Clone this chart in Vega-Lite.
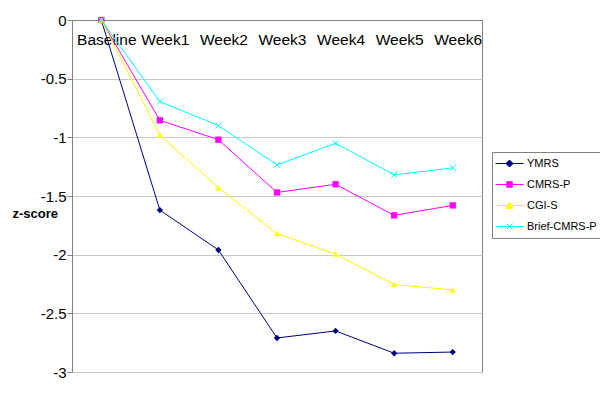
{
  "$schema": "https://vega.github.io/schema/vega-lite/v6.json",
  "width": 410,
  "height": 352,
  "autosize": "none",
  "padding": {"left": 72, "top": 20, "right": 118, "bottom": 28},
  "background": "white",
  "config": {
    "font": "Liberation Sans",
    "view": {"stroke": "#808080", "strokeWidth": 1}
  },
  "data": {
    "values": [
      {"week": "Baseline", "measure": "YMRS", "z": 0},
      {"week": "Week1", "measure": "YMRS", "z": -1.62},
      {"week": "Week2", "measure": "YMRS", "z": -1.96},
      {"week": "Week3", "measure": "YMRS", "z": -2.71},
      {"week": "Week4", "measure": "YMRS", "z": -2.65},
      {"week": "Week5", "measure": "YMRS", "z": -2.84},
      {"week": "Week6", "measure": "YMRS", "z": -2.83},
      {"week": "Baseline", "measure": "CMRS-P", "z": 0},
      {"week": "Week1", "measure": "CMRS-P", "z": -0.855},
      {"week": "Week2", "measure": "CMRS-P", "z": -1.02},
      {"week": "Week3", "measure": "CMRS-P", "z": -1.47},
      {"week": "Week4", "measure": "CMRS-P", "z": -1.40},
      {"week": "Week5", "measure": "CMRS-P", "z": -1.665},
      {"week": "Week6", "measure": "CMRS-P", "z": -1.58},
      {"week": "Baseline", "measure": "CGI-S", "z": 0},
      {"week": "Week1", "measure": "CGI-S", "z": -0.98},
      {"week": "Week2", "measure": "CGI-S", "z": -1.43},
      {"week": "Week3", "measure": "CGI-S", "z": -1.82},
      {"week": "Week4", "measure": "CGI-S", "z": -1.995},
      {"week": "Week5", "measure": "CGI-S", "z": -2.255},
      {"week": "Week6", "measure": "CGI-S", "z": -2.30},
      {"week": "Baseline", "measure": "Brief-CMRS-P", "z": 0},
      {"week": "Week1", "measure": "Brief-CMRS-P", "z": -0.695},
      {"week": "Week2", "measure": "Brief-CMRS-P", "z": -0.90},
      {"week": "Week3", "measure": "Brief-CMRS-P", "z": -1.235},
      {"week": "Week4", "measure": "Brief-CMRS-P", "z": -1.05},
      {"week": "Week5", "measure": "Brief-CMRS-P", "z": -1.32},
      {"week": "Week6", "measure": "Brief-CMRS-P", "z": -1.26}
    ]
  },
  "encoding": {
    "x": {
      "field": "week",
      "type": "ordinal",
      "sort": ["Baseline", "Week1", "Week2", "Week3", "Week4", "Week5", "Week6"],
      "scale": {"type": "point", "padding": 0.5},
      "axis": {
        "orient": "bottom",
        "offset": -352,
        "title": null,
        "labelAngle": 0,
        "labelFontSize": 15.5,
        "labelColor": "#000000",
        "labelBaseline": "top",
        "labelPadding": 12,
        "labelOffset": 5,
        "ticks": false,
        "grid": false,
        "domainColor": "#808080"
      }
    },
    "y": {
      "field": "z",
      "type": "quantitative",
      "scale": {"domain": [-3, 0], "nice": false, "zero": false},
      "axis": {
        "values": [0, -0.5, -1, -1.5, -2, -2.5, -3],
        "labelExpr": "'' + datum.value",
        "labelFontSize": 15,
        "labelColor": "#000000",
        "labelPadding": 1,
        "tickSize": 5,
        "tickColor": "#808080",
        "domainColor": "#808080",
        "gridColor": "#C8C8C8",
        "title": "z-score",
        "titleAngle": 0,
        "titleFontSize": 13,
        "titleFontWeight": "bold",
        "titleColor": "#000000",
        "titleAlign": "left",
        "titleBaseline": "middle",
        "titleX": -60,
        "titleY": 193
      }
    },
    "color": {
      "field": "measure",
      "type": "nominal",
      "scale": {
        "domain": ["YMRS", "CMRS-P", "CGI-S", "Brief-CMRS-P"],
        "range": ["#000080", "#FF00FF", "#FFFF00", "#00FFFF"]
      },
      "legend": {
        "title": null,
        "orient": "none",
        "legendX": 420,
        "legendY": 132,
        "padding": 6,
        "strokeColor": "#808080",
        "fillColor": "#FFFFFF",
        "labelFontSize": 11,
        "labelColor": "#000000",
        "symbolSize": 100,
        "symbolOffset": 6,
        "labelOffset": 12,
        "rowPadding": 9,
        "encode": {
          "symbols": {
            "update": {
              "shape": {"signal": "datum.value === 'YMRS' ? 'M-2.8,0H2.8M0,-0.7L0.7,0L0,0.7L-0.7,0Z' : datum.value === 'CMRS-P' ? 'M-2.8,0H2.8M-0.55,-0.55H0.55V0.55H-0.55Z' : datum.value === 'CGI-S' ? 'M-2.8,0H2.8M0,-0.7L0.7,0.55H-0.7Z' : 'M-2.8,0H2.8M-0.6,-0.6L0.6,0.6M-0.6,0.6L0.6,-0.6'"},
              "fill": {"signal": "scale('color', datum.value)"},
              "stroke": {"signal": "scale('color', datum.value)"},
              "strokeWidth": {"value": 1},
              "opacity": {"value": 1}
            }
          }
        }
      }
    }
  },
  "layer": [
    {
      "mark": {"type": "line", "strokeWidth": 1}
    },
    {
      "transform": [{"filter": "datum.measure === 'YMRS'"}],
      "mark": {"type": "point", "shape": "diamond", "filled": true, "size": 40, "opacity": 1}
    },
    {
      "transform": [{"filter": "datum.measure === 'CMRS-P'"}],
      "mark": {"type": "point", "shape": "square", "filled": true, "size": 40, "opacity": 1}
    },
    {
      "transform": [{"filter": "datum.measure === 'CGI-S'"}],
      "mark": {"type": "point", "shape": "triangle-up", "filled": true, "size": 40, "opacity": 1}
    },
    {
      "transform": [{"filter": "datum.measure === 'Brief-CMRS-P'"}],
      "mark": {"type": "point", "shape": "M-1,-1L1,1M-1,1L1,-1", "filled": false, "size": 36, "strokeWidth": 1, "opacity": 1}
    }
  ]
}
